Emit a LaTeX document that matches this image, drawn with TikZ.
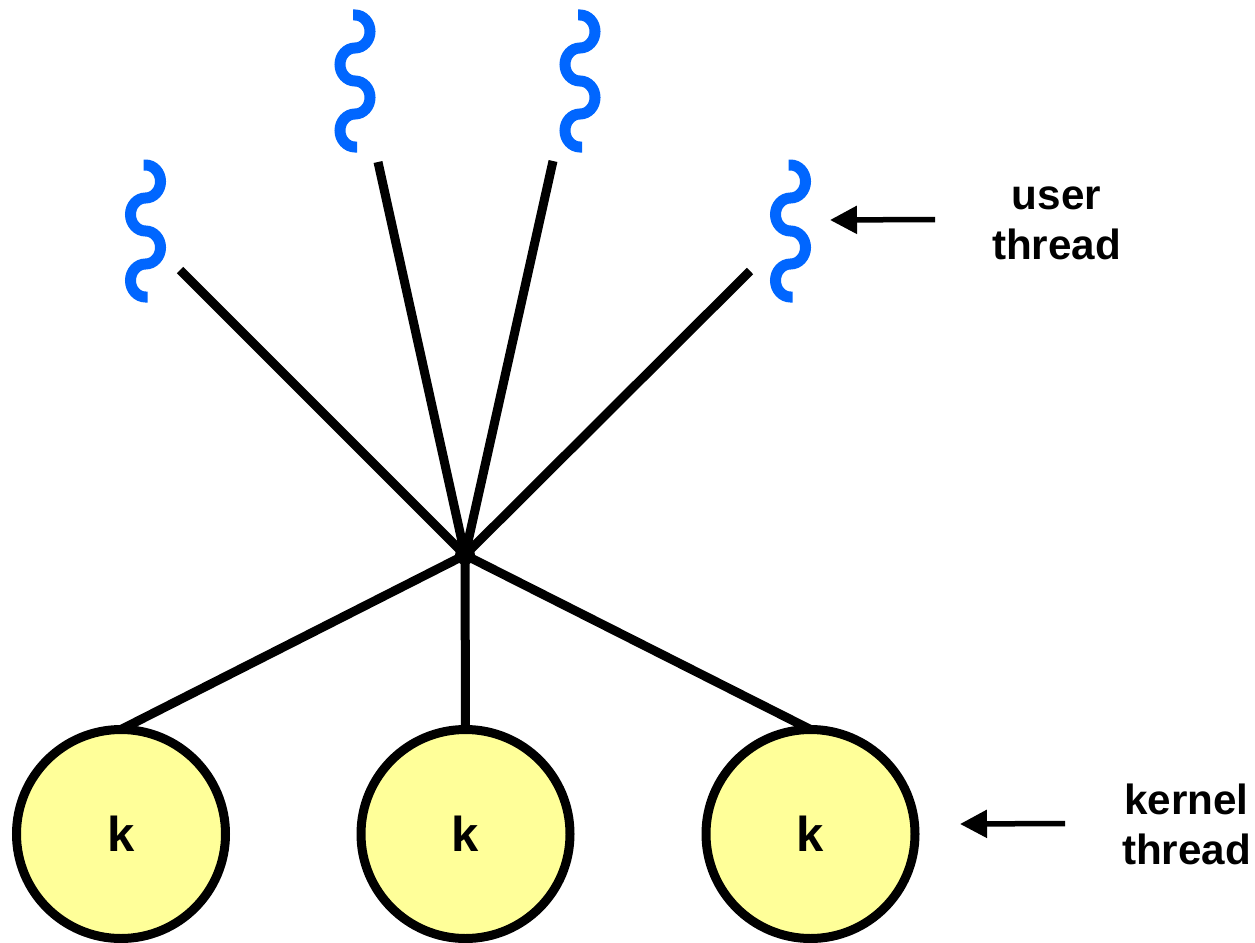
\documentclass[tikz,border=0pt]{standalone}
\usepackage{fontspec}
\setmainfont{Liberation Sans}
\usetikzlibrary{arrows.meta, positioning}

\definecolor{threadblue}{HTML}{0066FF}
\definecolor{kernelyellow}{HTML}{FFFF99}

\begin{document}
\begin{tikzpicture}[x=1pt,y=-1pt,
            link/.style={line width=9pt},
            pointer/.style={line width=5.5pt,-{Triangle[length=27pt,width=27pt]}},
            kernel/.style={circle,draw,line width=9pt,fill=kernelyellow,minimum size=209pt,
               inner sep=0pt,outer sep=0pt,font=\fontsize{49}{50}\selectfont\bfseries},
            label/.style={align=center,font=\fontsize{42.2}{50}\selectfont\bfseries},
            uthread/.pic={
               \draw[threadblue,line width=11pt] (-2,0) -- (0,0)
                  arc[start angle=-90,end angle=90,x radius=15,y radius=16.5]
                  arc[start angle=-90,end angle=-270,x radius=15,y radius=16.5]
                  arc[start angle=-90,end angle=90,x radius=15,y radius=16.5]
                  arc[start angle=-90,end angle=-270,x radius=15,y radius=16.5] -- ++(2,0);
            }]
            \useasboundingbox (0,0) rectangle (1255,942);
            % user threads
            \pic at (145.5,165) {uthread};
            \pic at (355,15) {uthread};
            \pic at (580,15) {uthread};
            \pic at (790.5,165) {uthread};
            \coordinate (u1) at (180,270);
            \coordinate (u2) at (378,162);
            \coordinate (u3) at (553,161);
            \coordinate (u4) at (750,271);
            % kernel threads
            \node [kernel] (k1) at (121,834) {k};
            \node [kernel] (k2) at (465.5,834) {k};
            \node [kernel] (k3) at (810.5,834) {k};
            \node [circle,fill,minimum size=20pt,inner sep=0pt] (hub) at (465,555) {};
            \foreach \n in {u1,u2,u3,u4,k1.north,k2.north,k3.north}
               \draw [link] (hub.center) -- (\n);
            % labels
            \node [label] (userlabel) at (1056.5,223) {user\\thread};
            \node [label] (kernellabel) at (1186.5,824) {kernel\\thread};
            \coordinate (userarrow) at (830,220);
            \coordinate (kernelarrow) at (960,824);
            \draw [pointer] (935,219.5) -- (userarrow);
            \draw [pointer] (1065,823.5) -- (kernelarrow);
         \end{tikzpicture}
\end{document}
